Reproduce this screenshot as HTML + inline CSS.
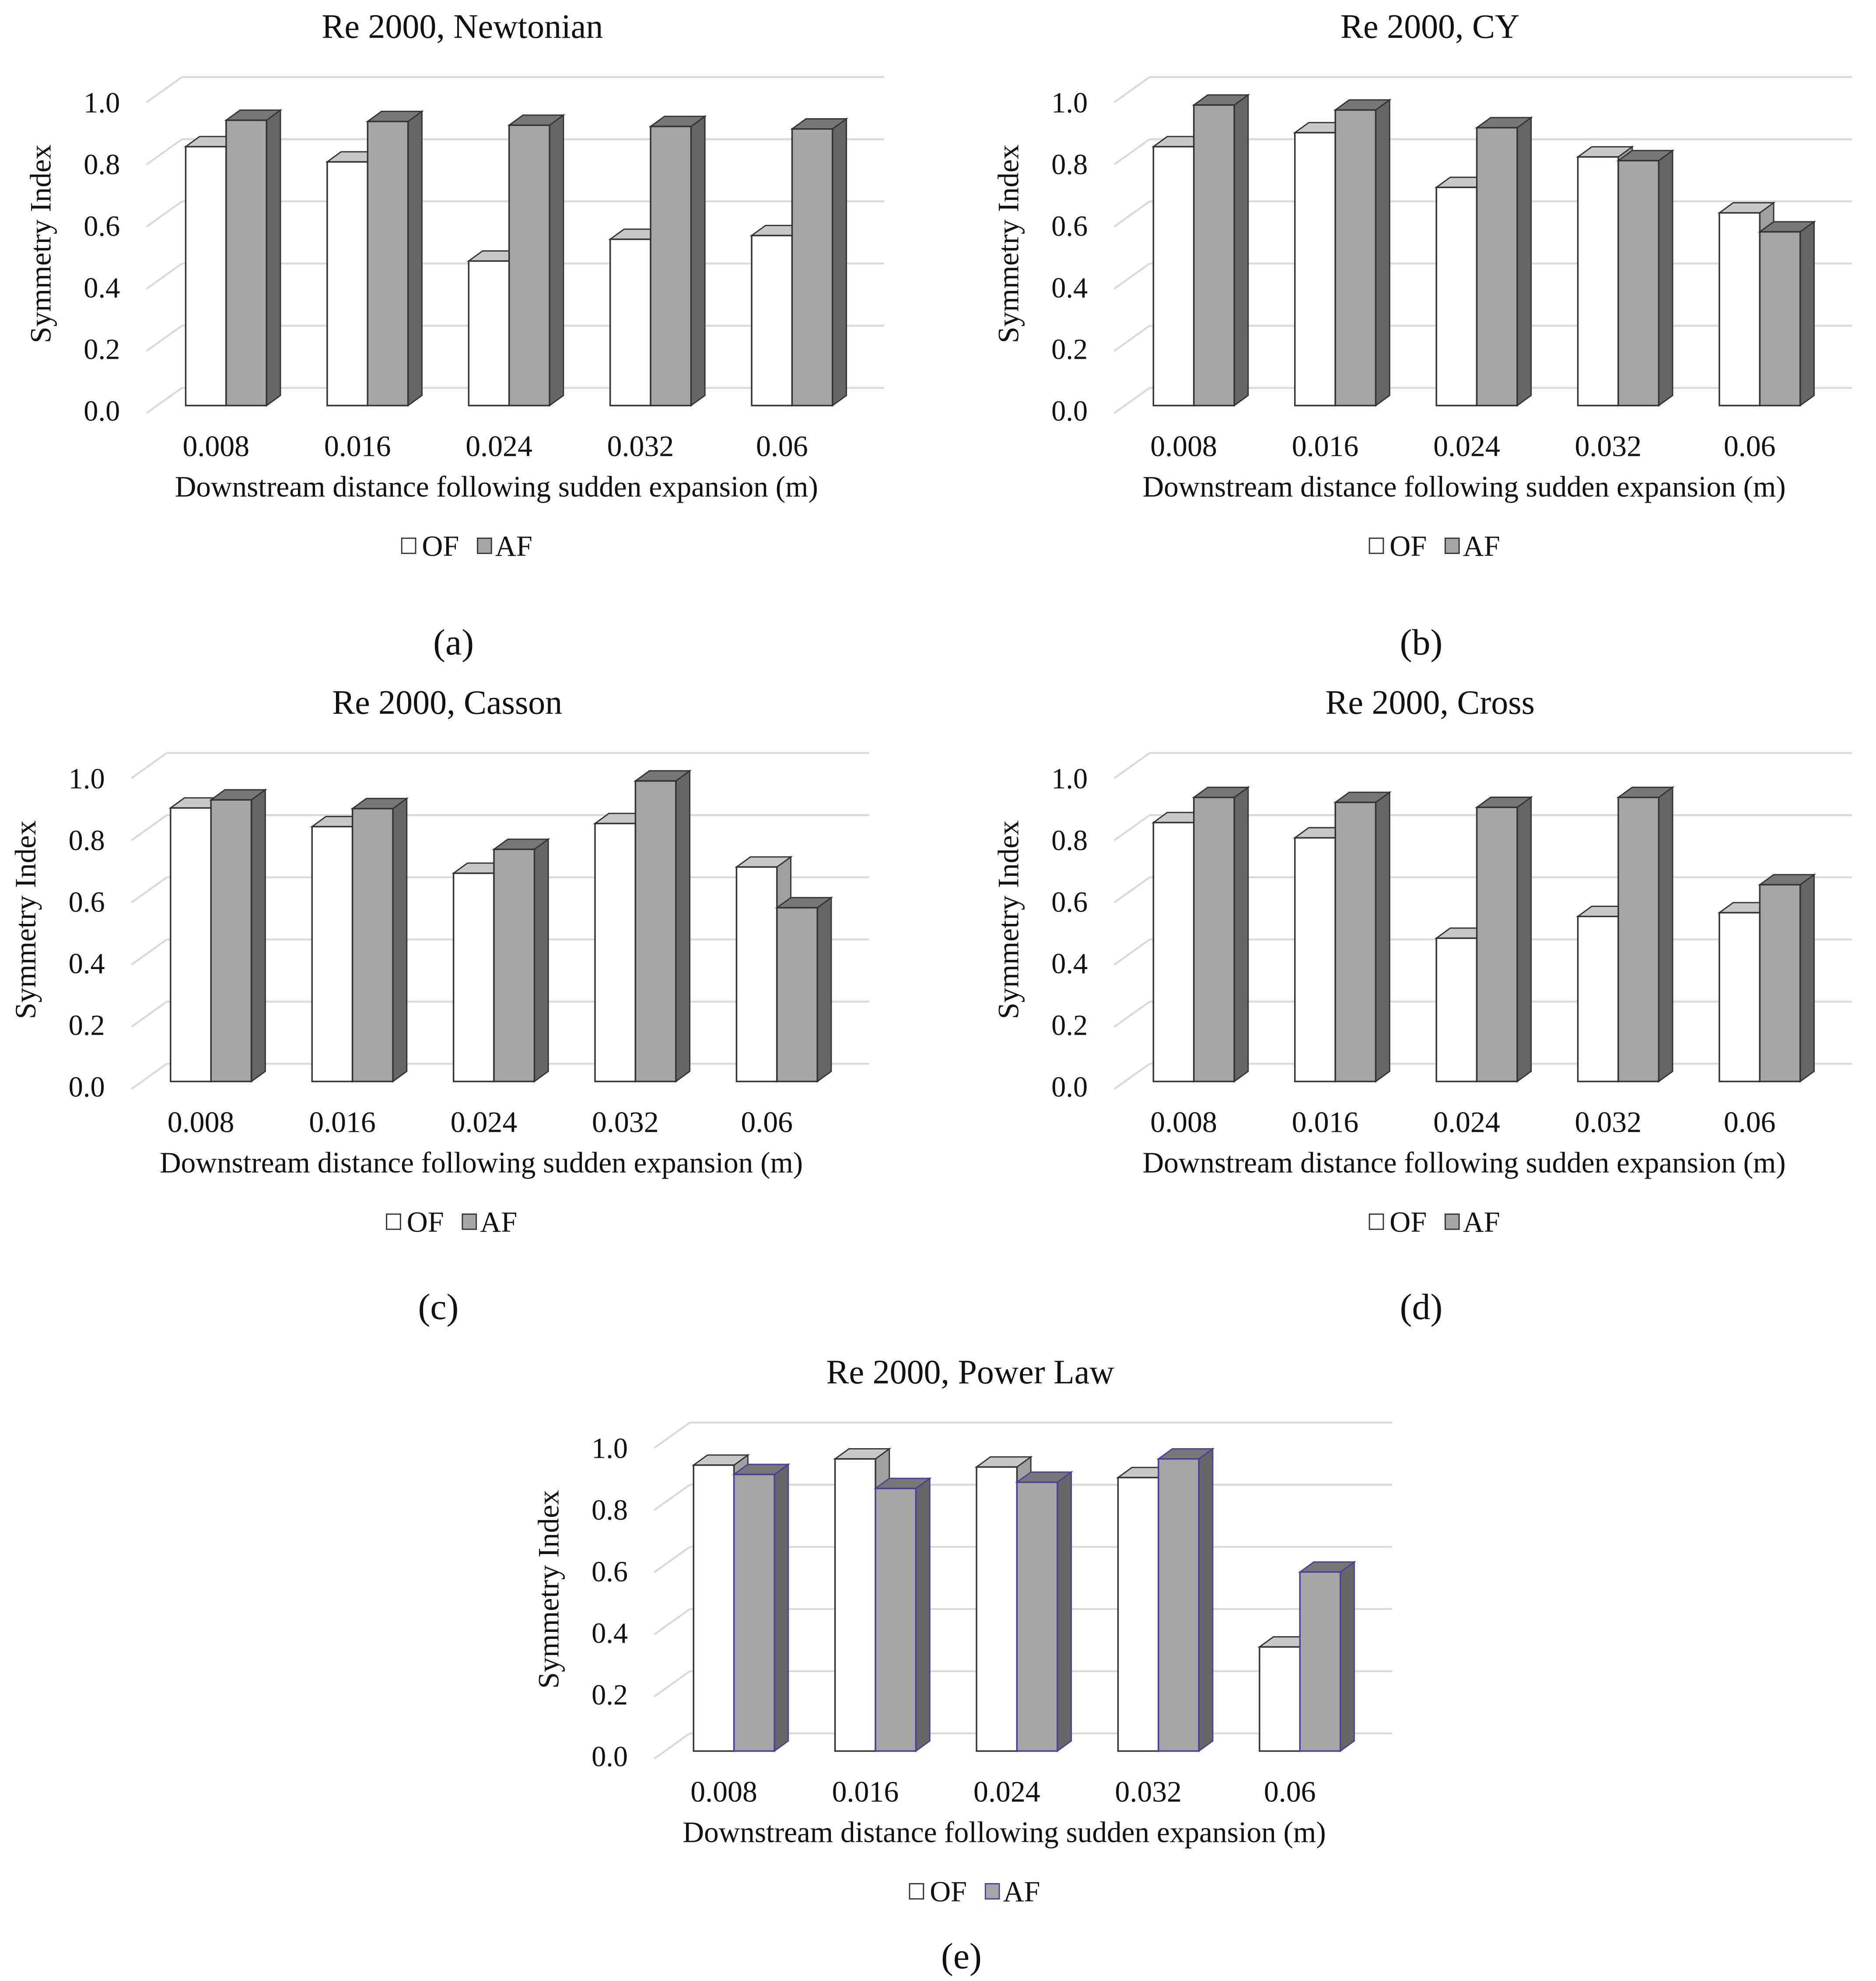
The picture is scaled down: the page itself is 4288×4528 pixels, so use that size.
<!DOCTYPE html>
<html><head><meta charset="utf-8"><style>
html,body{margin:0;padding:0;background:#fff}
svg{display:block}
text{font-family:"Liberation Serif",serif;fill:#111}
</style></head><body>
<svg id="fig" xmlns="http://www.w3.org/2000/svg" width="4288" height="4528" viewBox="0 0 1485 1568" preserveAspectRatio="none"></svg>
<script>
const categories = ["0.008","0.016","0.024","0.032","0.06"];
const yTicks = [0,0.2,0.4,0.6,0.8,1.0];
const yTickLabels = ["0.0","0.2","0.4","0.6","0.8","1.0"];
const titles = ["Re 2000, Newtonian","Re 2000, CY","Re 2000, Casson","Re 2000, Cross","Re 2000, Power Law"];
const panelLabels = ["(a)","(b)","(c)","(d)","(e)"];
const ofNewtonian = [0.833,0.784,0.465,0.535,0.547];
const afNewtonian = [0.918,0.914,0.902,0.898,0.890];
const ofCY = [0.833,0.878,0.702,0.800,0.620];
const afCY = [0.967,0.951,0.894,0.788,0.559];
const ofCasson = [0.880,0.820,0.670,0.830,0.690];
const afCasson = [0.906,0.878,0.747,0.967,0.559];
const ofCross = [0.833,0.784,0.461,0.531,0.543];
const afCross = [0.914,0.898,0.882,0.914,0.633];
const ofPower = [0.920,0.940,0.914,0.880,0.335];
const afPower = [0.890,0.845,0.865,0.940,0.576];

const NS="http://www.w3.org/2000/svg";
const svg=document.getElementById('fig');
function mk(tag,attrs,parent){const e=document.createElementNS(NS,tag);for(const k in attrs)e.setAttribute(k,attrs[k]);(parent||svg).appendChild(e);return e;}
const panels=[
 {X0:147,B:321,lab:196,of:ofNewtonian,af:afNewtonian,afStroke:"#333"},
 {X0:913,B:321,lab:196,of:ofCY,af:afCY,afStroke:"#333"},
 {X0:135,B:856,lab:187,of:ofCasson,af:afCasson,afStroke:"#333"},
 {X0:913,B:856,lab:187,of:ofCross,af:afCross,afStroke:"#333"},
 {X0:549,B:1386,lab:171,of:ofPower,af:afPower,afStroke:"#4a3f9a"}
];
const S=246, BW=32, GAP=112, DX=11, DY=-8;
function bar(g,x,B,v,front,top,side,stroke,name){
  const y=B-v*S;
  const grp=mk('g',{},g);
  
  
  mk('polygon',{points:`${x+BW},${y} ${x+BW+DX},${y+DY} ${x+BW+DX},${B+DY} ${x+BW},${B}`,fill:side,stroke:stroke,'stroke-width':1},grp);
  mk('polygon',{points:`${x},${y} ${x+DX},${y+DY} ${x+BW+DX},${y+DY} ${x+BW},${y}`,fill:top,stroke:stroke,'stroke-width':1},grp);
  mk('rect',{x:x,y:y,width:BW,height:v*S,fill:front,stroke:stroke,'stroke-width':1.2},grp);
}
panels.forEach((p,i)=>{
  const g=mk('g',{});
  
  
  const X0=p.X0,B=p.B;
  yTicks.forEach((v,k)=>{
    const yb=B-14-v*S;
    const gl=mk('line',{x1:X0-3,y1:yb,x2:X0+553,y2:yb,stroke:'#d9d9d9','stroke-width':1.5},g);
    
    
    mk('line',{x1:X0-31,y1:B+6-v*S,x2:X0-3,y2:yb,stroke:'#d9d9d9','stroke-width':1.5},g);
    const t=mk('text',{x:X0-52,y:B+12-v*244,'text-anchor':'end','font-size':23},g);
    t.textContent=yTickLabels[k];
    
    
  });
  const tt=mk('text',{x:X0+219,y:B-291,'text-anchor':'middle','font-size':27},g);
  tt.textContent=titles[i];
  
  
  const yt=mk('text',{x:0,y:0,'text-anchor':'middle','font-size':23.5,transform:`translate(${X0-107},${B-128}) rotate(-90)`},g);
  yt.textContent="Symmetry Index";
  
  
  categories.forEach((c,j)=>{
    const x=X0+j*GAP;
    bar(g,x,B,p.of[j],'#ffffff','#c8c8c8','#a0a0a0','#333','bar-of-'+c);
    bar(g,x+BW,B,p.af[j],'#a6a6a6','#777777','#666666',p.afStroke,'bar-af-'+c);
    const xl=mk('text',{x:x+24,y:B+40,'text-anchor':'middle','font-size':23.5},g);
    xl.textContent=c;
    
    
  });
  const xt=mk('text',{x:X0+246,y:B+72,'text-anchor':'middle','font-size':23.3},g);
  xt.textContent="Downstream distance following  sudden expansion (m)";
  
  
  const lg=mk('g',{},g);
  
  
  mk('rect',{x:X0+171,y:B+105,width:11,height:12,fill:'#fff',stroke:'#333'},lg);
  const l1=mk('text',{x:X0+187,y:B+119,'font-size':23},lg);l1.textContent="OF";
  mk('rect',{x:X0+231,y:B+105,width:11,height:12,fill:'#a6a6a6',stroke:p.afStroke},lg);
  const l2=mk('text',{x:X0+245,y:B+119,'font-size':23},lg);l2.textContent="AF";
  const pl=mk('text',{x:X0+212,y:B+p.lab+1,'text-anchor':'middle','font-size':29},g);
  pl.textContent=panelLabels[i];
  
  
});
</script>
</body></html>
